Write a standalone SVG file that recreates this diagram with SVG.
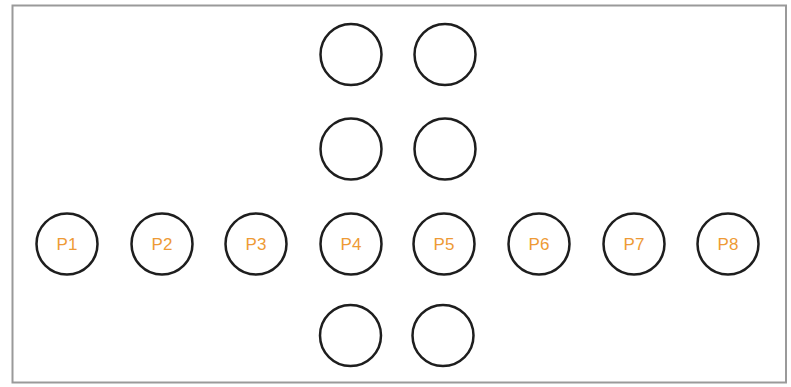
<svg xmlns="http://www.w3.org/2000/svg" width="791" height="387" viewBox="0 0 791 387">
<style>
.n{fill:none;stroke:#1e1e1e;stroke-width:2.5}
.t{font-family:"Liberation Sans",Arial,sans-serif;font-size:17px;fill:#ee9a35;text-anchor:middle;dominant-baseline:central}
</style>
<rect x="0" y="0" width="791" height="387" fill="#fff"/>
<rect x="12.5" y="5.5" width="773.5" height="377" fill="none" stroke="#9a9a9a" stroke-width="2"/>
<g id="connectors"></g>
<g id="a1"><circle class="n" cx="351" cy="54.5" r="30.5"/></g>
<g id="a2"><circle class="n" cx="445" cy="54.5" r="30.5"/></g>
<g id="b1"><circle class="n" cx="351" cy="149" r="30.5"/></g>
<g id="b2"><circle class="n" cx="445" cy="149" r="30.5"/></g>
<g id="p1"><circle class="n" cx="67" cy="244" r="30.5"/><text class="t" x="67" y="244">P1</text></g>
<g id="p2"><circle class="n" cx="162" cy="244" r="30.5"/><text class="t" x="162" y="244">P2</text></g>
<g id="p3"><circle class="n" cx="256" cy="244" r="30.5"/><text class="t" x="256" y="244">P3</text></g>
<g id="p4"><circle class="n" cx="351" cy="244" r="30.5"/><text class="t" x="351" y="244">P4</text></g>
<g id="p5"><circle class="n" cx="444" cy="244" r="30.5"/><text class="t" x="444" y="244">P5</text></g>
<g id="p6"><circle class="n" cx="539" cy="244" r="30.5"/><text class="t" x="539" y="244">P6</text></g>
<g id="p7"><circle class="n" cx="634" cy="244" r="30.5"/><text class="t" x="634" y="244">P7</text></g>
<g id="p8"><circle class="n" cx="728" cy="244" r="30.5"/><text class="t" x="728" y="244">P8</text></g>
<g id="c1"><circle class="n" cx="350.5" cy="335.5" r="30.5"/></g>
<g id="c2"><circle class="n" cx="443" cy="335.5" r="30.5"/></g>
</svg>
